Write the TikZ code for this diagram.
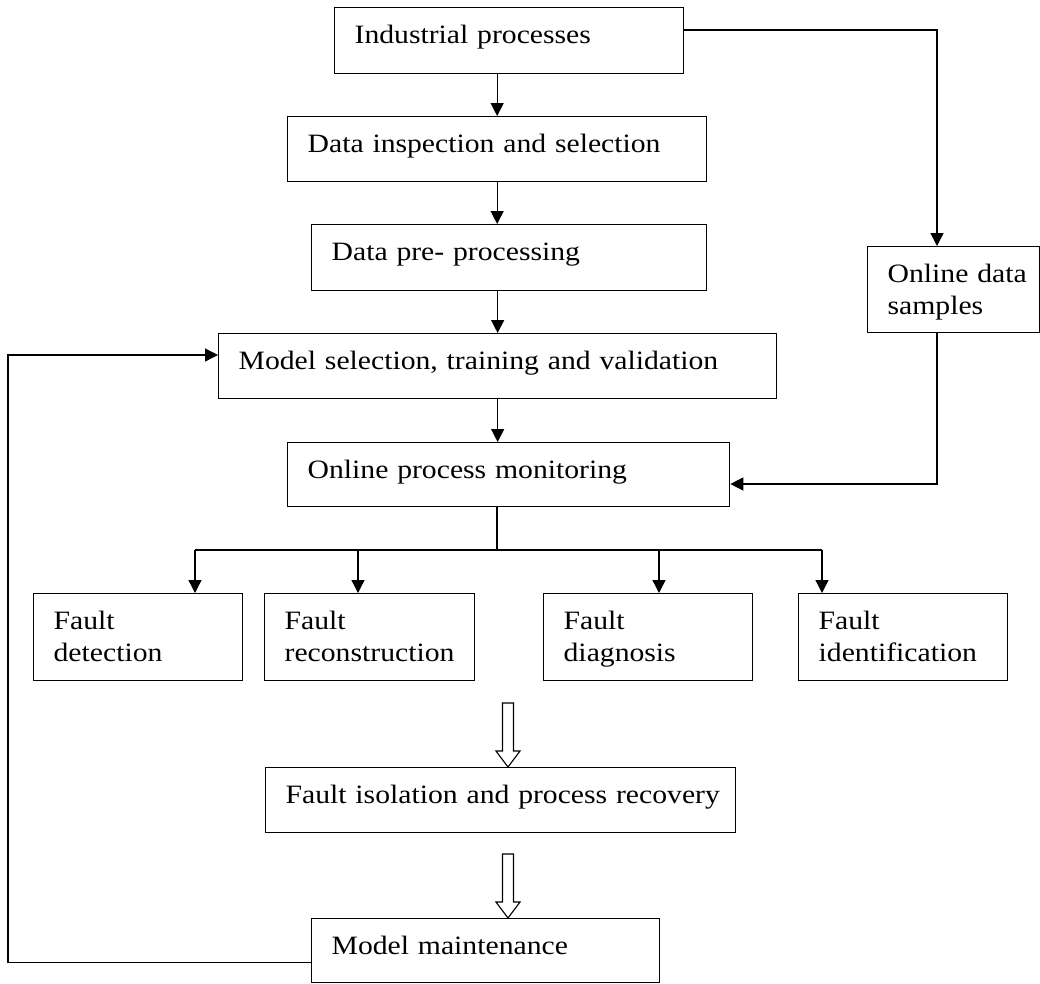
\documentclass[tikz,border=0pt]{standalone}
\usepackage{fontspec}
\setmainfont{Liberation Serif}[FakeStretch=1.12]
\usetikzlibrary{arrows.meta,calc}

\tikzset{
  % #1 = box width, #2 = box height; the text sits near the top, 20 in from the left
  box/.style 2 args={draw, line width=1.3pt, anchor=north west,
    inner xsep=0pt, inner ysep=0pt, align=left,
    text width=#1pt, text height=36pt, text depth={(#2-36)*1pt},
    font=\fontsize{26.5pt}{32pt}\selectfont,
    execute at begin node={\leftskip=20pt\relax}},
  arr/.style={line width=1.3pt, -{Triangle[length=13pt,width=13pt]}},
  link/.style={line width=1.3pt},
  hollowarrow/.pic={
    \draw[line width=1.1pt, fill=white]
      (0,0) -- (-12,-16) -- (-5.5,-16) -- (-5.5,-64) -- (5.5,-64)
      -- (5.5,-16) -- (12,-16) -- cycle;}
}

\begin{document}
\begin{tikzpicture}[x=1pt, y=-1pt]
\useasboundingbox (0,0) rectangle (1040,983);
\fill[white] (0,0) rectangle (1040,983);

% main chain
\node[box={349}{66}] (ind)     at (334,7)   {Industrial processes};
\node[box={419}{65}] (insp)    at (287,116) {Data inspection and selection};
\node[box={395}{66}] (pre)     at (311,224) {Data pre- processing};
\node[box={558}{65}] (model)   at (218,333) {Model selection, training and validation};
\node[box={442}{64}] (monitor) at (287,442) {Online process monitoring};
\node[box={172}{86}] (ods)     at (867,246) {Online data\\samples};

% fault analysis row
\node[box={209}{87}] (fd)  at (33,593)  {Fault\\detection};
\node[box={210}{87}] (fr)  at (264,593) {Fault\\reconstruction};
\node[box={209}{87}] (fdg) at (543,593) {Fault\\diagnosis};
\node[box={209}{87}] (fi)  at (798,593) {Fault\\identification};

% recovery and maintenance
\node[box={470}{65}] (iso)   at (265,767) {Fault isolation and process recovery};
\node[box={348}{64}] (maint) at (311,918) {Model maintenance};

% chain arrows
\draw[arr] (insp.north |- ind.south) -- (insp.north);
\draw[arr] (insp.south) -- (insp.south |- pre.north);
\draw[arr] (model.north |- pre.south) -- (model.north);
\draw[arr] (model.south) -- (model.south |- monitor.north);

% online data path
\coordinate (indR) at ($(ind.north east)+(0,23)$);
\coordinate (odsA) at ($(ods.north west)+(70,0)$);
\coordinate (monR) at ($(monitor.north east)+(0,42)$);
\draw[arr] (indR) -| (odsA);
\draw[arr] (odsA |- ods.south) |- (monR);

% branching to the fault boxes
\coordinate (br)  at (497,550);
\coordinate (fdA) at ($(fd.north west)+(162,0)$);
\coordinate (frA) at ($(fr.north west)+(94,0)$);
\coordinate (fgA) at ($(fdg.north west)+(116,0)$);
\coordinate (fiA) at ($(fi.north west)+(24,0)$);
\draw[link] (br |- monitor.south) -- (br);
\draw[link] (fdA |- br) -- (fiA |- br);
\draw[arr] (fdA |- br) -- (fdA);
\draw[arr] (frA |- br) -- (frA);
\draw[arr] (fgA |- br) -- (fgA);
\draw[arr] (fiA |- br) -- (fiA);

% hollow arrows
\coordinate (isoT)   at ($(iso.north west)+(243,0)$);
\coordinate (maintT) at ($(maint.north west)+(197,0)$);
\pic at (isoT) {hollowarrow};
\pic at (maintT) {hollowarrow};

% feedback loop
\coordinate (fbout) at ($(maint.south west)+(0,-21)$);
\coordinate (fbin)  at ($(model.north west)+(0,22)$);
\coordinate (fbx)   at (8,0);
\draw[arr] (fbout) -- (fbx |- fbout) -- (fbx |- fbin) -- (fbin);
\end{tikzpicture}
\end{document}
